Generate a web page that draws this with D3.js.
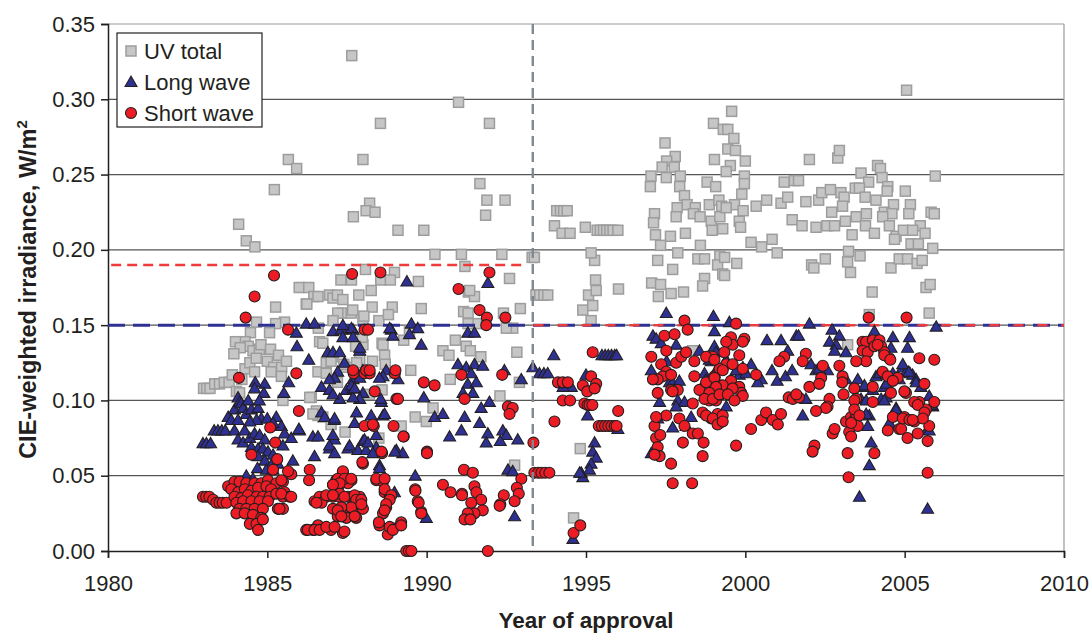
<!DOCTYPE html>
<html><head><meta charset="utf-8">
<script src="https://cdn.jsdelivr.net/npm/d3@7"></script>
<style>body{margin:0;background:#fff}svg{display:block}text{font-family:"Liberation Sans",Arial,sans-serif}</style>
</head><body><svg id="c" width="1090" height="633"></svg>
<script>
// ---- data: [year of approval, CIE-weighted irradiance W/m2] ----
const uvTotal = [[1983.0,0.108],[1983.1,0.108],[1983.2,0.108],[1983.35,0.111],[1983.5,0.111],[1983.65,0.112],[1983.8,0.112],
[1984.03,0.106],[1984.13,0.105],[1984.2,0.114],[1984.3,0.121],[1984.45,0.125],[1984.6,0.119],[1983.9,0.117],
[1984.1,0.217],[1984.34,0.206],[1984.61,0.202],[1985.22,0.240],[1985.66,0.260],[1985.92,0.254],
[1987.65,0.329],[1991.0,0.298],[1988.55,0.284],[1991.97,0.284],[1988.0,0.260],
[1987.7,0.222],[1988.21,0.231],[1988.1,0.226],[1988.38,0.225],[1989.1,0.213],[1989.91,0.213],[1991.67,0.244],[1991.89,0.233],[1992.46,0.233],[1991.85,0.223],
[1990.26,0.197],[1991.09,0.197],[1992.36,0.197],[1991.2,0.189],[1993.31,0.195],[1993.38,0.195],
[1988.08,0.187],[1987.31,0.180],[1987.64,0.180],[1988.99,0.185],[1989.74,0.179],[1988.56,0.180],[1988.86,0.18],[1992.6,0.181],
[1986.0,0.175],[1986.3,0.175],[1986.46,0.169],[1986.22,0.164],[1986.59,0.169],[1986.95,0.170],[1987.06,0.168],[1987.2,0.170],[1987.37,0.167],[1987.87,0.170],[1988.26,0.173],
[1988.92,0.162],[1988.29,0.162],[1989.83,0.161],[1991.31,0.172],[1991.5,0.169],[1991.35,0.173],[1992.94,0.161],[1991.16,0.159],[1991.3,0.158],[1992.41,0.158],
[1985.26,0.162],[1986.24,0.164],[1987.36,0.158],[1987.63,0.158],[1987.68,0.160],[1988.0,0.153],[1988.5,0.153],[1988.03,0.156],[1988.8,0.157],[1987.21,0.158],[1987.06,0.153],
[1985.54,0.152],[1985.26,0.151],[1984.66,0.152],[1984.47,0.145],[1985.07,0.145],
[1984.3,0.139],[1984.4,0.136],[1984.55,0.133],[1984.75,0.134],[1984.8,0.137],[1984.0,0.139],[1984.15,0.135],[1983.95,0.131],[1984.65,0.128],
[1985.1,0.134],[1985.35,0.130],[1985.0,0.126],[1985.2,0.122],[1985.45,0.122],[1985.6,0.126],
[1985.12,0.119],[1985.44,0.116],[1985.49,0.100],[1986.38,0.102],[1986.54,0.093],[1986.59,0.090],
[1986.64,0.139],[1986.6,0.148],[1986.74,0.138],[1987.06,0.129],[1987.48,0.122],[1987.9,0.127],[1988.0,0.137],[1988.6,0.138],[1988.63,0.137],[1988.68,0.130],[1987.98,0.142],[1987.77,0.136],
[1989.28,0.140],[1989.46,0.146],[1990.51,0.133],[1990.7,0.130],[1990.9,0.140],
[1986.59,0.119],[1986.85,0.118],[1986.85,0.125],[1987.0,0.126],[1987.4,0.124],[1987.8,0.125],[1988.3,0.126],[1988.7,0.124],
[1990.74,0.114],[1989.0,0.118],[1989.5,0.120],
[1986.33,0.102],[1986.43,0.091],[1986.74,0.089],[1987.0,0.084],[1987.44,0.079],[1988.5,0.075],[1989.2,0.083],[1989.64,0.089],[1989.99,0.086],[1987.2,0.112],[1988.2,0.104],[1988.6,0.107],[1990.2,0.095],
[1991.56,0.151],[1991.3,0.151],[1992.7,0.148],[1992.5,0.148],[1991.24,0.136],[1991.37,0.133],[1991.7,0.129],[1992.83,0.132],[1992.91,0.112],[1992.3,0.103],[1992.76,0.057],
[1993.43,0.170],[1993.55,0.170],[1993.68,0.170],[1993.8,0.170],
[1994.08,0.226],[1994.2,0.226],[1994.3,0.226],[1994.41,0.226],[1994.01,0.216],[1994.25,0.211],[1994.5,0.211],[1994.98,0.215],
[1995.35,0.213],[1995.45,0.213],[1995.55,0.213],[1995.65,0.213],[1995.75,0.213],[1995.85,0.213],[1996.0,0.213],
[1994.9,0.160],[1995.08,0.170],[1994.82,0.068],[1994.61,0.022],
[1995.3,0.180],[1995.32,0.173],[1995.21,0.163],[1995.16,0.153],[1995.27,0.193],[1995.16,0.198],[1996.02,0.174],
[1999.0,0.284],[1999.31,0.280],[1997.48,0.271],[1997.8,0.262],[1997.53,0.259],[1997.39,0.255],[1997.77,0.255],[1999.03,0.260],[1997.04,0.249],[1997.02,0.242],[1997.52,0.248],[1997.96,0.249],[1997.94,0.242],[1998.09,0.236],[1998.8,0.245],[1999.07,0.242],[1998.87,0.230],[1999.17,0.233],[1999.26,0.229],[1998.17,0.230],[1998.43,0.228],[1998.37,0.224],[1998.58,0.222],[1997.86,0.228],[1997.83,0.222],[1997.15,0.224],[1997.12,0.218],[1998.93,0.219],[1998.96,0.213],[1999.2,0.222],[1999.29,0.214],[1998.12,0.211],[1997.18,0.210],[1997.65,0.209],[1997.34,0.203],[1998.59,0.203],[1997.88,0.198],[1998.51,0.194],[1998.72,0.194],[1999.2,0.196],[1999.13,0.190],[1999.29,0.184],[1997.25,0.193],[1997.72,0.187],[1998.72,0.181],[1998.66,0.176],[1997.06,0.178],[1997.34,0.177],[1997.27,0.169],[1997.67,0.171],[1998.06,0.172],[1998.35,0.133],
[1999.57,0.292],[1999.45,0.280],[1999.64,0.274],[1999.45,0.267],[1999.69,0.266],[2000.0,0.259],[1999.53,0.256],[1999.4,0.252],[1999.97,0.249],[1999.97,0.244],[1999.89,0.237],[1999.66,0.230],[1999.4,0.228],[1999.93,0.226],[1999.81,0.219],[1999.85,0.215],[2000.34,0.229],[2000.67,0.233],[2001.12,0.231],[2001.33,0.235],[2001.22,0.245],[2001.54,0.246],[2001.67,0.246],[2002.01,0.260],[2002.9,0.261],[2002.95,0.266],[2001.9,0.232],[2002.3,0.233],[2002.4,0.238],[2002.67,0.240],[2003.0,0.238],[2003.1,0.235],[2003.05,0.229],[2003.45,0.241],[2003.48,0.222],[2002.71,0.225],[2001.47,0.220],[2001.78,0.216],[2002.22,0.215],[2002.56,0.216],[2002.8,0.216],[2003.14,0.219],[2003.35,0.210],[2000.18,0.205],[2000.51,0.202],[2000.84,0.207],[2001.0,0.198],[1999.35,0.195],[1999.73,0.191],[1999.35,0.183],[2002.08,0.190],[2002.15,0.188],[2002.51,0.194],[2003.21,0.192],[2003.3,0.185],[2003.24,0.199],[2003.21,0.137],
[2005.06,0.306],[2004.15,0.256],[2004.24,0.254],[2004.29,0.248],[2003.63,0.251],[2005.96,0.249],[2003.87,0.245],[2004.47,0.242],[2004.45,0.239],[2005.02,0.239],[2003.58,0.241],[2003.76,0.235],[2004.1,0.233],[2004.65,0.230],[2005.18,0.230],[2003.8,0.224],[2004.36,0.225],[2004.6,0.224],[2005.13,0.224],[2005.83,0.225],[2005.93,0.224],[2004.31,0.222],[2003.77,0.216],[2004.52,0.216],[2005.49,0.216],[2004.05,0.211],[2004.73,0.209],[2004.96,0.213],[2005.25,0.213],[2005.64,0.211],[2004.68,0.207],[2005.2,0.204],[2005.43,0.204],[2005.88,0.201],[2003.6,0.196],[2004.57,0.188],[2004.83,0.194],[2005.09,0.194],[2005.39,0.191],[2005.55,0.193],[2005.67,0.175],[2005.8,0.177],[2003.98,0.172],[2005.77,0.158],[2003.89,0.157]];

const longWave = [[1982.98,0.0715],[1983.09,0.0715],[1983.22,0.0715],
[1983.33,0.080],[1983.45,0.080],[1983.57,0.080],[1983.68,0.080],
[1983.77,0.089],[1983.87,0.087],[1983.97,0.094],[1983.97,0.080],[1984.08,0.087],[1984.08,0.102],[1984.13,0.099],[1984.18,0.098],[1984.24,0.095],[1984.34,0.091],[1984.5,0.094],[1984.71,0.095],[1984.81,0.088],[1984.66,0.087],[1984.45,0.086],[1985.0,0.088],[1985.28,0.089],[1985.44,0.083],[1985.18,0.085],[1984.29,0.080],
[1984.08,0.074],[1984.24,0.072],[1984.45,0.075],[1984.6,0.078],[1984.76,0.077],[1984.92,0.074],[1984.5,0.069],[1984.71,0.068],[1984.86,0.068],[1985.02,0.066],[1985.18,0.064],[1984.71,0.063],[1984.92,0.060],[1985.12,0.057],[1985.33,0.058],[1984.69,0.055],[1984.97,0.054],[1985.18,0.054],[1984.34,0.050],[1984.55,0.048],
[1985.54,0.078],[1985.75,0.075],[1986.01,0.080],[1986.43,0.076],[1986.59,0.076],[1985.8,0.060],[1986.48,0.063],[1985.49,0.070],[1984.6,0.025],
[1984.92,0.111],[1984.62,0.112],[1984.6,0.108],[1984.89,0.105],[1984.4,0.100],[1984.75,0.100],
[1986.22,0.151],[1986.48,0.151],[1985.91,0.145],[1985.93,0.136],[1986.3,0.127],[1985.67,0.112],[1985.52,0.105],
[1987.06,0.146],[1987.32,0.147],[1987.37,0.142],[1987.69,0.147],[1987.64,0.148],[1987.69,0.142],[1987.37,0.150],[1987.9,0.133],[1988.89,0.147],[1988.94,0.143],[1988.84,0.148],[1989.52,0.151],[1989.72,0.148],[1989.46,0.144],[1989.83,0.137],[1987.9,0.135],
[1986.9,0.132],[1987.06,0.132],[1987.27,0.132],[1987.42,0.125],[1987.21,0.119],[1987.11,0.115],[1986.95,0.114],[1988.0,0.120],[1988.73,0.120],[1989.1,0.114],[1988.63,0.116],[1988.52,0.115],
[1986.7,0.109],[1986.95,0.107],[1987.48,0.107],[1987.69,0.108],[1988.0,0.105],[1987.9,0.101],[1987.69,0.102],[1987.27,0.101],[1987.06,0.104],[1988.58,0.099],[1988.56,0.101],[1989.91,0.102],[1987.69,0.114],[1987.9,0.115],[1987.64,0.110],[1987.74,0.108],
[1986.7,0.092],[1986.8,0.089],[1987.1,0.087],[1987.8,0.092],[1988.26,0.090],[1988.63,0.090],[1987.74,0.085],[1988.68,0.091],[1987.11,0.088],
[1985.99,0.081],[1987.11,0.074],[1986.95,0.068],[1987.53,0.068],[1988.0,0.073],[1987.84,0.067],[1988.1,0.067],[1988.42,0.069],[1988.42,0.077],[1988.05,0.074],[1987.06,0.077],[1988.16,0.072],[1987.58,0.070],[1986.95,0.070],[1987.11,0.065],[1988.31,0.065],[1989.05,0.067],[1989.25,0.065],[1988.52,0.057],[1988.52,0.055],[1989.0,0.066],[1989.64,0.050],[1988.99,0.039],[1989.99,0.022],
[1989.38,0.179],[1990.25,0.089],[1990.51,0.091],[1990.72,0.076],
[1991.92,0.178],[1991.29,0.145],[1991.5,0.145],[1993.99,0.130],
[1990.98,0.124],[1991.24,0.122],[1991.5,0.124],[1991.76,0.123],[1992.44,0.120],[1992.97,0.114],[1993.33,0.122],[1993.54,0.118],[1993.68,0.118],[1993.8,0.118],[1991.4,0.118],[1991.29,0.111],[1991.56,0.112],[1991.14,0.105],[1991.45,0.105],[1991.97,0.099],[1991.71,0.095],[1991.19,0.089],[1991.66,0.085],[1991.09,0.080],[1991.92,0.078],[1992.39,0.080],[1992.5,0.077],[1992.86,0.074],[1992.31,0.073],[1991.87,0.072],[1992.55,0.054],[1992.7,0.053],[1992.76,0.023],[1994.85,0.052],
[1994.43,0.110],[1994.54,0.109],[1994.28,0.109],[1995.0,0.117],[1995.05,0.090],[1995.27,0.072],[1995.21,0.066],[1995.32,0.062],[1995.16,0.058],[1995.11,0.054],[1994.9,0.049],[1994.8,0.052],
[1995.5,0.130],[1995.6,0.130],[1995.7,0.130],[1995.8,0.130],[1995.9,0.130],[1995.96,0.130],
[1994.59,0.008],[1996.0,0.081],
[1997.52,0.158],[1999.0,0.156],[1999.03,0.146],[1997.1,0.143],[1997.2,0.141],[1997.36,0.138],[1997.83,0.137],[1997.05,0.120],[1997.53,0.126],[1997.62,0.112],[1997.72,0.112],[1997.93,0.113],[1997.77,0.107],[1997.31,0.099],[1997.88,0.100],[1998.09,0.099],[1997.83,0.096],[1997.25,0.088],[1998.3,0.089],[1998.14,0.083],[1997.72,0.082],[1997.05,0.065],[1998.56,0.133],[1999.03,0.136],[1998.93,0.126],[1999.13,0.121],
[1999.5,0.152],[2000.68,0.140],[2001.12,0.140],[2001.33,0.133],[2001.6,0.143],[2001.67,0.143],[2002.01,0.151],[2002.72,0.147],[2002.95,0.143],[2002.64,0.139],[2002.85,0.137],[2003.16,0.132],[2002.8,0.133],[2004.05,0.146],[2004.63,0.142],[2005.15,0.142],[2004.57,0.135],[2005.09,0.135],[2004.94,0.122],[2005.17,0.118],[2005.99,0.149],
[2000.84,0.120],[2001.0,0.113],[2001.26,0.116],[2001.47,0.120],[2000.5,0.114],[2000.39,0.112],[1999.92,0.122],[2000.18,0.124],[1999.73,0.120],[1999.81,0.117],[2002.06,0.124],[2002.22,0.120],[2002.58,0.120],[2002.32,0.121],[2001.9,0.101],[2001.8,0.090],
[2003.16,0.114],[2003.53,0.114],[2003.73,0.109],[2003.63,0.101],[2003.79,0.100],[2004.0,0.107],[2004.36,0.109],[2004.42,0.117],[2004.63,0.118],[2004.83,0.114],[2005.04,0.119],[2005.25,0.117],[2005.36,0.114],[2005.51,0.109],[2005.77,0.103],[2004.1,0.116],[2004.26,0.101],[2004.42,0.102],[2004.73,0.095],[2004.57,0.083],[2003.89,0.090],[2003.84,0.083],[2003.95,0.072],[2003.89,0.057],[2003.58,0.036],[2005.72,0.028],[2005.88,0.096],[2005.72,0.081],
[1999.08,0.132],[1998.87,0.127],[1999.03,0.118],[1998.72,0.118],[1998.77,0.114],[1999.4,0.127],[1999.71,0.120],[2000.02,0.118],[1999.4,0.096],
[2004.94,0.124],[2005.13,0.119],[2005.36,0.112],[2004.21,0.118],[2004.42,0.111],[2004.36,0.100],[2003.74,0.110],[2003.79,0.091],[2004.52,0.085],[2004.73,0.094],[2005.77,0.080],[2005.86,0.097]];

const shortWave = [[1982.98,0.036],[1983.08,0.036],[1983.18,0.036],[1983.3,0.034],[1983.4,0.032],[1983.5,0.032],[1983.6,0.032],[1983.72,0.032],
[1985.21,0.183],[1984.6,0.169],[1984.32,0.155],[1985.65,0.147],[1985.91,0.118],[1984.11,0.115],[1985.99,0.093],[1985.09,0.082],[1985.25,0.072],[1984.5,0.064],[1985.31,0.061],[1985.18,0.054],[1985.75,0.051],[1985.65,0.053],[1986.33,0.054],[1986.31,0.047],
[1983.77,0.043],[1983.97,0.046],[1984.13,0.046],[1984.34,0.045],[1984.6,0.045],[1984.81,0.045],[1985.02,0.047],[1985.28,0.045],[1985.49,0.046],[1983.87,0.041],[1984.08,0.039],[1984.29,0.041],[1984.5,0.040],[1984.71,0.042],[1984.97,0.043],[1985.12,0.041],[1985.54,0.039],[1983.97,0.036],[1984.18,0.035],[1984.39,0.037],[1984.66,0.036],[1984.86,0.036],[1985.07,0.036],[1985.28,0.038],[1985.49,0.036],[1985.7,0.036],[1984.03,0.032],[1984.24,0.033],[1984.5,0.033],[1984.76,0.033],[1985.02,0.033],[1984.13,0.028],[1984.34,0.028],[1984.6,0.028],[1984.86,0.028],[1985.33,0.028],[1985.49,0.028],[1984.03,0.025],[1984.29,0.025],[1984.55,0.024],[1984.81,0.022],[1984.45,0.018],[1984.66,0.018],[1984.86,0.021],[1984.71,0.014],
[1985.44,0.047],[1985.44,0.038],[1985.38,0.028],[1985.75,0.036],
[1986.22,0.014],[1986.43,0.014],[1986.59,0.017],[1986.48,0.033],
[1987.71,0.118],[1988.05,0.118],[1988.21,0.118],[1989.0,0.118],[1988.05,0.147],[1988.16,0.147],[1988.37,0.106],[1989.05,0.101],[1988.05,0.083],[1988.34,0.083],[1988.96,0.083],[1988.6,0.065],[1988.0,0.058],[1987.37,0.052],[1987.16,0.047],[1987.06,0.044],[1987.27,0.044],[1987.64,0.047],[1987.53,0.045],
[1986.64,0.036],[1986.85,0.036],[1987.06,0.036],[1987.27,0.036],[1987.53,0.036],[1987.69,0.036],[1987.9,0.036],[1986.7,0.032],[1986.54,0.032],[1987.06,0.028],[1987.37,0.028],[1987.69,0.028],[1988.0,0.028],[1987.9,0.032],[1987.21,0.023],[1987.48,0.022],[1987.79,0.022],[1986.27,0.014],[1986.48,0.014],[1986.64,0.014],[1987.0,0.014],[1987.37,0.012],
[1988.42,0.047],[1988.63,0.046],[1988.68,0.039],[1988.84,0.036],[1988.73,0.029],[1988.63,0.025],[1988.52,0.017],[1988.94,0.015],[1988.78,0.011],
[1987.66,0.184],[1988.55,0.185],[1987.69,0.120],[1988.1,0.120],[1988.21,0.120],[1989.02,0.120],[1989.91,0.112],[1990.25,0.110],[1989.1,0.101],[1988.31,0.084],[1989.28,0.076],[1988.58,0.066],[1990.01,0.066],[1987.98,0.059],[1987.37,0.053],
[1987.21,0.048],[1987.42,0.048],[1987.27,0.045],[1987.63,0.048],[1987.06,0.044],[1987.27,0.038],[1986.85,0.037],[1987.06,0.037],[1987.42,0.036],[1987.74,0.037],[1987.79,0.034],[1987.95,0.034],[1987.63,0.029],[1987.32,0.029],[1987.21,0.027],[1987.32,0.023],[1987.74,0.023],[1987.95,0.031],[1986.85,0.016],[1987.11,0.016],[1987.42,0.013],
[1988.42,0.048],[1988.68,0.048],[1988.68,0.041],[1988.89,0.037],[1988.84,0.034],[1988.73,0.031],[1988.68,0.027],[1988.5,0.019],[1988.84,0.016],[1988.94,0.014],[1989.2,0.019],[1989.64,0.041],[1989.72,0.033],[1989.83,0.026],[1990.51,0.044],[1990.75,0.039],
[1989.36,0.0],[1989.44,0.0],[1989.52,0.0],[1991.92,0.0],
[1991.97,0.185],[1991.0,0.174],[1991.66,0.160],[1991.89,0.155],[1991.87,0.150],[1992.47,0.155],[1991.09,0.117],[1992.37,0.117],[1991.19,0.101],[1992.55,0.096],[1992.7,0.095],[1992.6,0.091],[1994.01,0.086],[1993.35,0.072],[1991.17,0.054],[1991.45,0.052],
[1993.38,0.052],[1993.5,0.052],[1993.6,0.052],[1993.72,0.052],[1993.85,0.052],
[1992.97,0.048],[1992.83,0.042],[1992.89,0.038],[1992.76,0.033],[1992.42,0.037],[1992.31,0.031],[1991.11,0.038],[1991.5,0.043],[1991.56,0.039],[1991.71,0.034],[1991.4,0.032],[1991.76,0.027],[1991.5,0.025],[1991.29,0.025],[1991.19,0.021],[1991.37,0.021],[1992.29,0.030],
[1994.61,0.012],[1994.82,0.017],
[1994.12,0.112],[1994.27,0.112],[1994.43,0.112],[1994.9,0.110],[1995.04,0.106],[1994.27,0.100],[1994.5,0.100],[1994.95,0.098],[1995.05,0.097],[1995.16,0.116],[1995.32,0.111],[1995.27,0.108],[1995.11,0.097],[1995.2,0.097],[1996.01,0.093],[1995.21,0.132],
[1995.4,0.083],[1995.5,0.083],[1995.6,0.083],[1995.7,0.083],[1995.8,0.083],[1995.9,0.083],[1995.96,0.083],
[1989.27,0.076],[1990.01,0.065],[1989.65,0.040],[1989.75,0.032],[1989.83,0.025],[1989.2,0.017],[1991.11,0.037],
[1997.05,0.129],[1997.36,0.124],[1997.52,0.119],[1997.41,0.116],[1997.25,0.114],[1997.1,0.114],[1997.72,0.045],[1998.33,0.045],[1997.46,0.143],[1997.78,0.144],[1998.09,0.153],[1998.19,0.147],[1997.52,0.133],[1997.83,0.125],[1997.99,0.129],[1998.14,0.132],[1998.4,0.126],[1998.4,0.116],[1998.35,0.098],[1997.67,0.107],[1997.88,0.107],[1997.52,0.090],[1997.93,0.088],[1998.09,0.083],[1998.35,0.078],[1997.15,0.083],[1997.2,0.075],[1997.25,0.069],[1997.31,0.063],[1997.15,0.064],[1998.04,0.072],[1997.67,0.058],[1997.2,0.089],[1997.67,0.117],[1997.25,0.105],[1997.72,0.106],
[1998.56,0.107],[1998.82,0.129],[1998.98,0.129],[1998.77,0.112],[1998.87,0.100],[1999.08,0.100],[1999.24,0.104],[1999.19,0.110],[1999.03,0.116],[1998.66,0.092],[1998.93,0.088],[1999.19,0.085],[1999.13,0.091],[1998.51,0.078],[1998.69,0.072],[1998.66,0.063],[1997.33,0.077],
[1999.71,0.151],[1999.55,0.142],[1999.6,0.137],[1999.4,0.139],[1999.97,0.141],[1999.92,0.139],[1999.34,0.132],[1998.77,0.129],[1999.81,0.130],[1999.4,0.124],[1999.19,0.121],[1999.03,0.127],[1999.29,0.120],[1999.6,0.124],[1999.92,0.121],[2000.34,0.117],[1999.03,0.115],[1999.55,0.113],[1999.29,0.110],[1999.81,0.109],[1999.87,0.105],[1999.92,0.103],[1999.6,0.108],[1999.08,0.109],[1998.87,0.105],[1998.72,0.101],[1998.98,0.101],[1999.19,0.104],[1999.45,0.104],[1999.66,0.100],[1998.77,0.090],[1998.98,0.088],[1999.13,0.084],[1999.29,0.090],[1999.29,0.086],[1999.71,0.070],
[2000.18,0.081],[2000.5,0.087],[2000.65,0.092],[2000.86,0.087],[2001.02,0.084],[2001.12,0.091],[2001.22,0.129],[2001.07,0.126],[2001.9,0.131],[2001.8,0.126],[2001.36,0.102],[2001.49,0.101],[2001.68,0.102],[2001.6,0.104],[2002.01,0.109],[2002.43,0.123],[2002.38,0.115],[2002.32,0.111],[2002.64,0.101],[2002.58,0.096],[2002.53,0.095],[2002.22,0.093],[2002.17,0.070],[2002.11,0.066],[2002.95,0.123],[2003.05,0.116],[2003.04,0.112],[2003.08,0.104],[2003.16,0.086],[2003.32,0.089],[2003.42,0.087],[2003.48,0.091],[2003.53,0.083],[2003.26,0.079],[2003.32,0.076],[2003.21,0.065],[2003.24,0.049],[2003.42,0.108],[2003.48,0.101],[2002.74,0.078],[2002.8,0.081],[2003.42,0.100],[2003.42,0.094],[2003.32,0.085],
[2003.68,0.139],[2003.79,0.139],[2003.68,0.133],[2003.84,0.132],[2004.0,0.140],[2004.05,0.136],[2004.21,0.140],[2004.26,0.136],[2004.36,0.132],[2004.52,0.128],[2003.79,0.126],[2003.48,0.126],[2003.87,0.155],[2005.06,0.155],[2004.0,0.109],[2004.0,0.099],[2004.31,0.119],[2004.47,0.116],[2004.78,0.115],[2004.57,0.105],[2005.04,0.105],[2005.46,0.099],[2005.67,0.094],[2005.93,0.099],[2005.77,0.083],[2005.72,0.073],[2005.09,0.075],[2005.41,0.078],[2004.63,0.089],[2004.83,0.081],[2005.3,0.086],[2005.2,0.087],[2004.99,0.089],[2004.47,0.080],[2005.46,0.128],[2005.93,0.127],[2005.72,0.052],[2004.63,0.113],[2004.99,0.106],[2005.62,0.111],[2005.3,0.099],[2005.41,0.097],[2005.62,0.092],[2005.57,0.088],[2003.58,0.090],[2004.89,0.081],[2004.05,0.065],[2004.94,0.088],[2005.15,0.087],[2005.25,0.087],[2004.15,0.137],[2004.36,0.130],[2004.55,0.127]];

// reference lines
const limitBlue = [[1980, 0.15], [2010, 0.15]];
const limitRedOld = [[1980.1, 0.19], [1993.15, 0.19]];
const limitRedNew = [[1993.35, 0.15], [2010, 0.15]];
const changeYear = 1993.33;

const xTicks = [1980, 1985, 1990, 1995, 2000, 2005, 2010];
const yTicks = [0, 0.05, 0.10, 0.15, 0.20, 0.25, 0.30, 0.35];
const seriesNames = ["UV total", "Long wave", "Short wave"];

// ---- drawing ----
const svg = d3.select("#c");
const x = d3.scaleLinear().domain([1980, 2010]).range([108, 1064]);
const y = d3.scaleLinear().domain([0, 0.35]).range([551, 24]);

const col = {sqFill:"#c6c6c6", sqStroke:"#9d9d9d", tri:"#2e3192", circ:"#ed1c24", dark:"#231f20"};

// gridlines
svg.append("g").selectAll("line").data(yTicks.filter(v => v > 0)).join("line")
  .attr("x1", x(1980)).attr("x2", x(2010))
  .attr("y1", d => y(d)).attr("y2", d => y(d))
  .attr("stroke", d => d === 0.35 ? "#9a9a9a" : "#555").attr("stroke-width", 1.2);
// right border
svg.append("line").attr("x1", x(2010)).attr("x2", x(2010)).attr("y1", y(0.35)).attr("y2", y(0))
  .attr("stroke", "#9a9a9a").attr("stroke-width", 1.2);

// axes
const yAxis = svg.append("g").attr("transform", `translate(${x(1980)},0)`)
  .call(d3.axisLeft(y).tickValues(yTicks).tickFormat(d3.format(".2f")).tickSizeOuter(0).tickSize(7).tickPadding(6));
const xAxis = svg.append("g").attr("transform", `translate(0,${y(0)})`)
  .call(d3.axisBottom(x).tickValues(xTicks).tickFormat(d3.format("d")).tickSizeOuter(0).tickSize(7).tickPadding(17));
[yAxis, xAxis].forEach(a => {
  a.selectAll("path,line").attr("stroke", "#231f20").attr("stroke-width", 1.5);
  a.selectAll("text").attr("font-size", 22).attr("fill", "#231f20")
   .attr("font-family", '"Liberation Sans",Arial,sans-serif');
});

const line = d3.line().x(d => x(d[0])).y(d => y(d[1]));

// squares
const sq = 10;
svg.append("g").selectAll("rect").data(uvTotal).join("rect")
  .attr("x", d => x(d[0]) - sq/2).attr("y", d => y(d[1]) - sq/2)
  .attr("width", sq).attr("height", sq)
  .attr("fill", col.sqFill).attr("stroke", col.sqStroke).attr("stroke-width", 1.5);

// dashed horizontal lines
svg.append("path").datum(limitBlue).attr("d", line).attr("fill", "none")
  .attr("stroke", col.tri).attr("stroke-width", 3).attr("stroke-dasharray", "17,8");
svg.append("path").datum(limitRedOld).attr("d", line).attr("fill", "none")
  .attr("stroke", "#ee3b3b").attr("stroke-width", 2.5).attr("stroke-dasharray", "10,6");
svg.append("path").datum(limitRedNew).attr("d", line).attr("fill", "none")
  .attr("stroke", "#ee3b3b").attr("stroke-width", 2.5).attr("stroke-dasharray", "10,14");

// triangles
const tri = d3.symbol().type(d3.symbolTriangle).size(62);
svg.append("g").selectAll("path").data(longWave).join("path")
  .attr("d", tri).attr("transform", d => `translate(${x(d[0])},${y(d[1]) + 1})`)
  .attr("fill", col.tri).attr("stroke", col.dark).attr("stroke-width", 1.1);

// circles
svg.append("g").selectAll("circle").data(shortWave).join("circle")
  .attr("cx", d => x(d[0])).attr("cy", d => y(d[1])).attr("r", 5.5)
  .attr("fill", col.circ).attr("stroke", col.dark).attr("stroke-width", 1.1);

// vertical dashed line
svg.append("line").attr("x1", x(changeYear)).attr("x2", x(changeYear))
  .attr("y1", y(0.35)).attr("y2", y(0))
  .attr("stroke", "#7f8991").attr("stroke-width", 2.4).attr("stroke-dasharray", "10,6");

// axis titles
svg.append("text").attr("x", (x(1980) + x(2010)) / 2).attr("y", 628).attr("text-anchor", "middle")
  .attr("font-size", 22.5).attr("font-weight", "bold").attr("fill", "#231f20").text("Year of approval");
const yt = svg.append("text").attr("transform", `translate(36,${(y(0) + y(0.35)) / 2 + 2}) rotate(-90)`)
  .attr("text-anchor", "middle").attr("font-size", 23.5).attr("font-weight", "bold").attr("fill", "#231f20");
yt.append("tspan").text("CIE-weighted irradiance, W/m");
yt.append("tspan").attr("font-size", 15).attr("dy", -9).text("2");

// legend
const lg = svg.append("g");
lg.append("rect").attr("x", 117).attr("y", 33).attr("width", 145).attr("height", 94)
  .attr("fill", "#fff").attr("stroke", "#231f20").attr("stroke-width", 1.2);
const rowsY = [51, 82, 113];
lg.append("rect").attr("x", 131 - 5).attr("y", rowsY[0] - 5).attr("width", 10).attr("height", 10)
  .attr("fill", col.sqFill).attr("stroke", col.sqStroke).attr("stroke-width", 1.5);
lg.append("path").attr("d", tri).attr("transform", `translate(131,${rowsY[1] + 1})`)
  .attr("fill", col.tri).attr("stroke", col.dark).attr("stroke-width", 1.1);
lg.append("circle").attr("cx", 131).attr("cy", rowsY[2]).attr("r", 5.5)
  .attr("fill", col.circ).attr("stroke", col.dark).attr("stroke-width", 1.1);
lg.selectAll("text.l").data(seriesNames).join("text").attr("class", "l")
  .attr("x", 144).attr("y", (d, i) => rowsY[i] + 8).attr("font-size", 22).attr("fill", "#231f20").text(d => d);
</script></body></html>
